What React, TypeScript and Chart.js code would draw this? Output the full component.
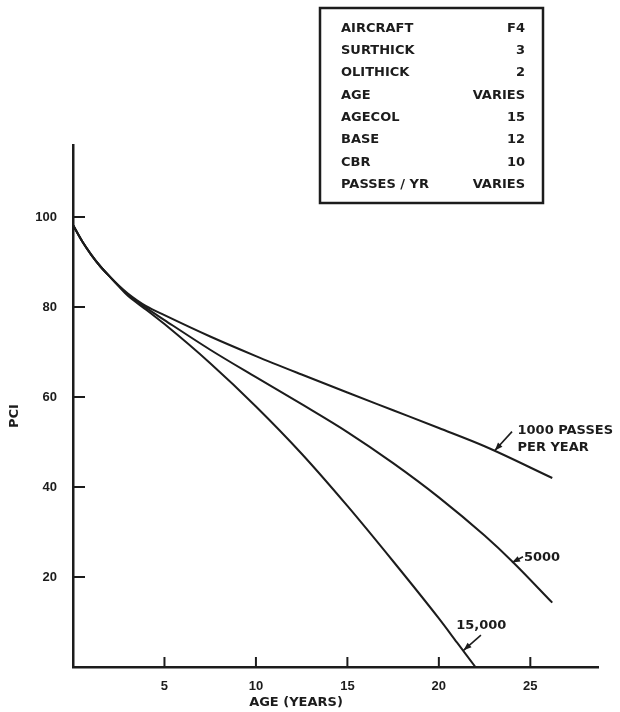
import React, { useEffect, useRef } from "react";
import { Chart, registerables } from "chart.js";

Chart.register(...registerables);

// ---- data ----
const ages1000 = [0, 0.5, 1, 1.5, 2, 2.5, 3, 3.5, 4, 5, 7.5, 10, 12.5, 15, 17.5, 20, 22.5, 26.2];
const pci1000 = [98.2, 94.6, 91.6, 89.0, 86.8, 84.8, 83.0, 81.5, 80.2, 78.2, 73.45, 69.1, 65.0, 61.0, 57.05, 53.1, 49.05, 42.0];

const ages5000 = [0, 0.5, 1, 1.5, 2, 2.5, 3, 3.5, 4, 5, 7.5, 10, 12.5, 15, 17.5, 20, 22.5, 24, 26.2];
const pci5000 = [98.2, 94.6, 91.6, 89.0, 86.8, 84.7, 82.8, 81.3, 79.8, 77.1, 70.5, 64.4, 58.4, 52.2, 45.3, 37.7, 29.2, 23.5, 14.3];

const ages15000 = [0, 0.5, 1, 1.5, 2, 2.5, 3, 3.5, 4, 5, 7.5, 10, 12.5, 15, 17.5, 20, 21, 22];
const pci15000 = [98.2, 94.6, 91.6, 89.0, 86.8, 84.6, 82.5, 80.9, 79.4, 76.2, 67.5, 57.9, 47.4, 35.8, 23.5, 10.8, 5.4, 0];

const xTicks = [5, 10, 15, 20, 25];
const yTicks = [20, 40, 60, 80, 100];

const legendKeys = ["AIRCRAFT", "SURTHICK", "OLITHICK", "AGE", "AGECOL", "BASE", "CBR", "PASSES / YR"];
const legendValues = ["F4", "3", "2", "VARIES", "15", "12", "10", "VARIES"];

const xTitle = "AGE (YEARS)";
const yTitle = "PCI";

// curve call-outs, anchored in data units
const callouts = [
  { lines: ["1000 PASSES", "PER YEAR"], text: [24.3, 52.6], tail: [24.0, 52.3], head: [23.06, 48.1] },
  { lines: ["5000"], text: [24.65, 24.4], tail: [24.6, 24.5], head: [24.0, 23.2] },
  { lines: ["15,000"], text: [20.95, 9.3], tail: [22.3, 7.1], head: [21.35, 3.7] },
];

const INK = "#1c1c1c";
const LABEL_FONT = "bold 13px 'DejaVu Sans', sans-serif";

const overlay = {
  id: "overlay",
  afterDraw(chart: any) {
    const { ctx, chartArea } = chart;
    const x = chart.scales.x;
    const y = chart.scales.y;
    ctx.save();
    ctx.strokeStyle = INK;
    ctx.fillStyle = INK;
    ctx.lineCap = "butt";

    // inward tick marks
    ctx.lineWidth = 2;
    xTicks.forEach((v) => {
      const px = x.getPixelForValue(v);
      ctx.beginPath();
      ctx.moveTo(px, chartArea.bottom + 1);
      ctx.lineTo(px, chartArea.bottom - 10);
      ctx.stroke();
    });
    yTicks.forEach((v) => {
      const py = y.getPixelForValue(v);
      ctx.beginPath();
      ctx.moveTo(chartArea.left, py);
      ctx.lineTo(chartArea.left + 12, py);
      ctx.stroke();
    });

    // axis titles
    ctx.font = "bold 13px 'DejaVu Sans', sans-serif";
    ctx.textAlign = "center";
    ctx.textBaseline = "middle";
    ctx.fillText(xTitle, 296, 703);
    ctx.save();
    ctx.translate(15, 416);
    ctx.rotate(-Math.PI / 2);
    ctx.fillText(yTitle, 0, 0);
    ctx.restore();

    // call-outs
    ctx.font = LABEL_FONT;
    ctx.textAlign = "left";
    callouts.forEach((c) => {
      const tx = x.getPixelForValue(c.text[0]);
      const ty = y.getPixelForValue(c.text[1]);
      c.lines.forEach((ln, i) => ctx.fillText(ln, tx, ty + i * 17));
      const ax = x.getPixelForValue(c.tail[0]);
      const ay = y.getPixelForValue(c.tail[1]);
      const bx = x.getPixelForValue(c.head[0]);
      const by = y.getPixelForValue(c.head[1]);
      ctx.lineWidth = 1.6;
      ctx.beginPath();
      ctx.moveTo(ax, ay);
      ctx.lineTo(bx, by);
      ctx.stroke();
      const ang = Math.atan2(by - ay, bx - ax);
      const L = 8, W = 3;
      ctx.beginPath();
      ctx.moveTo(bx, by);
      ctx.lineTo(bx - L * Math.cos(ang) + W * Math.sin(ang), by - L * Math.sin(ang) - W * Math.cos(ang));
      ctx.lineTo(bx - L * Math.cos(ang) - W * Math.sin(ang), by - L * Math.sin(ang) + W * Math.cos(ang));
      ctx.closePath();
      ctx.fill();
    });

    // parameter box
    const bx0 = 320, by0 = 8, bw = 223, bh = 195;
    ctx.lineWidth = 2.5;
    ctx.strokeRect(bx0, by0, bw, bh);
    ctx.font = LABEL_FONT;
    legendKeys.forEach((k, i) => {
      const rowY = 28.5 + i * 22.3;
      ctx.textAlign = "left";
      ctx.fillText(k, 341, rowY);
      ctx.textAlign = "right";
      ctx.fillText(legendValues[i], 525, rowY);
    });
    ctx.restore();
  },
};

export default function App() {
  const ref = useRef<HTMLCanvasElement>(null);
  useEffect(() => {
    document.body.style.margin = "0";
    const pts = (xs: number[], ys: number[]) => xs.map((v, i) => ({ x: v, y: ys[i] }));
    const curve = {
      borderColor: INK,
      borderWidth: 2,
      pointRadius: 0,
      fill: false,
      cubicInterpolationMode: "monotone" as const,
    };
    const tickFont = { family: "'Liberation Sans', Arial, sans-serif", weight: "bold" as const, size: 13 };
    const chart = new Chart(ref.current as HTMLCanvasElement, {
      type: "line",
      data: {
        datasets: [
          { label: "1000", data: pts(ages1000, pci1000), ...curve },
          { label: "5000", data: pts(ages5000, pci5000), ...curve },
          { label: "15,000", data: pts(ages15000, pci15000), ...curve },
        ],
      },
      options: {
        responsive: false,
        animation: false,
        devicePixelRatio: 1,
        layout: { padding: { top: 145, right: 22, left: 0, bottom: 0 } },
        plugins: { legend: { display: false }, tooltip: { enabled: false } },
        scales: {
          x: {
            type: "linear",
            min: 0,
            max: 28.7,
            afterFit(s: any) {
              s.height = 45;
            },
            afterBuildTicks(s: any) {
              s.ticks = xTicks.map((v) => ({ value: v }));
            },
            grid: { display: false, drawTicks: false },
            border: { display: true, color: INK, width: 2.5 },
            ticks: { padding: 12, color: INK, font: tickFont, maxRotation: 0, autoSkip: false },
          },
          y: {
            type: "linear",
            min: 0,
            max: 116,
            afterFit(s: any) {
              s.width = 73;
            },
            afterBuildTicks(s: any) {
              s.ticks = yTicks.map((v) => ({ value: v }));
            },
            grid: { display: false, drawTicks: false },
            border: { display: true, color: INK, width: 2.5 },
            ticks: { padding: 16, color: INK, font: tickFont, autoSkip: false },
          },
        },
      },
      plugins: [overlay],
    });
    return () => chart.destroy();
  }, []);
  return (
    <div style={{ position: "absolute", left: 0, top: 0, width: 620, height: 712, background: "#fff" }}>
      <canvas ref={ref} width={620} height={712} />
    </div>
  );
}
